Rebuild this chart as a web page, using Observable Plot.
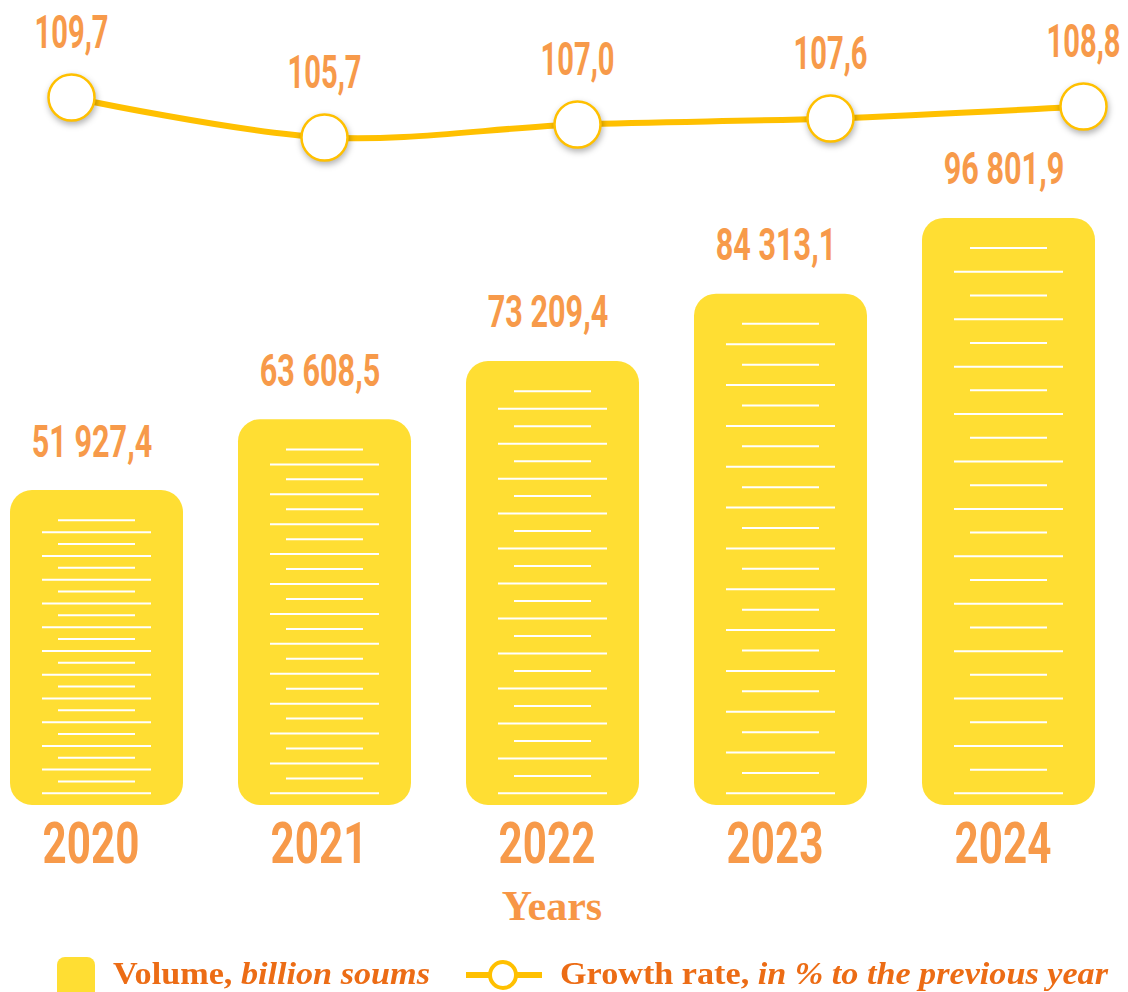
<!DOCTYPE html>
<html><head><meta charset="utf-8">
<script src="https://cdn.jsdelivr.net/npm/d3@7"></script>
<script src="https://cdn.jsdelivr.net/npm/@observablehq/plot@0.6"></script>
<style>
body{margin:0;background:#fff;}
#wrap{position:relative;width:1128px;height:992px;overflow:hidden;background:#fff;}
#bars,#line{position:absolute;left:0;top:0;}
#xlabel{position:absolute;left:0;width:1104px;top:885px;text-align:center;font-family:"Liberation Serif",serif;font-weight:bold;font-size:42px;line-height:42px;color:#F79646;}
.lg{position:absolute;font-family:"Liberation Serif",serif;font-weight:bold;font-size:32px;line-height:32px;color:#EC6C15;white-space:nowrap;transform-origin:left center;}
#sw{position:absolute;left:57px;top:957px;width:38px;height:42px;border-radius:8px;background:#FFDE33;}
#licon{position:absolute;left:462px;top:955px;}
</style></head><body>
<div id="wrap">
  <div id="bars"></div>
  <div id="line"></div>
  <div id="xlabel">Years</div>
  <div id="sw"></div>
  <div class="lg" id="lg1" style="left:113px;top:957px;">Volume, <i>billion soums</i></div>
  <svg id="licon" width="84" height="40"><line x1="4" y1="20" x2="80" y2="20" stroke="#FFC000" stroke-width="6"/><circle cx="41" cy="20" r="13" fill="#fff" stroke="#FFC000" stroke-width="4"/></svg>
  <div class="lg" id="lg2" style="left:560px;top:957px;">Growth rate, <i>in % to the previous year</i></div>
</div>
<script>
const years = ["2020", "2021", "2022", "2023", "2024"];
const volume = [51927.4, 63608.5, 73209.4, 84313.1, 96801.9];
const growth = [109.7, 105.7, 107.0, 107.6, 108.8];

const fmt = d3.formatLocale({decimal: ",", thousands: " ", grouping: [3]}).format(",.1f");
const barData = years.map((y, i) => ({year: y, value: volume[i]}));
const lineData = years.map((y, i) => ({year: y, g: growth[i]}));
// decorative white stripes inside each bar (24 per bar)
const stripes = barData.flatMap(d => d3.range(24).map(k => ({year: d.year, k, v: 2000 + k * (d.value - 4900 - 2000) / 23})));

const numFont = "Roboto, 'DejaVu Sans', sans-serif";
const orange = "#F79A4A";

const barPlot = Plot.plot({
  width: 1128, height: 880,
  x: {domain: years, range: [8.9, 1095.5], paddingInner: 0.243, paddingOuter: 0, axis: null},
  y: {domain: [0, 100000], range: [805, 198.5], axis: null},
  marks: [
    Plot.barY(barData, {x: "year", y: "value", fill: "#FFDE33", rx: 22}),
    Plot.tickY(stripes.filter(t => t.k % 2 === 0), {x: "year", y: "v", stroke: "#fff", strokeWidth: 2, insetLeft: 32, insetRight: 32}),
    Plot.tickY(stripes.filter(t => t.k % 2 === 1), {x: "year", y: "v", stroke: "#fff", strokeWidth: 2, insetLeft: 48, insetRight: 48}),
    Plot.text(barData, {x: "year", y: "value", text: d => fmt(d.value), dy: -34, dx: -5, lineAnchor: "bottom", fill: orange, fontSize: 45, fontWeight: "bold", fontFamily: numFont}),
    Plot.text(barData, {x: "year", y: () => 0, text: "year", dy: 17, dx: -6, lineAnchor: "top", fill: orange, fontSize: 57, fontWeight: "bold", fontFamily: numFont})
  ]
});
document.getElementById("bars").append(barPlot);

const linePlot = Plot.plot({
  width: 1128, height: 180,
  x: {type: "point", domain: years, range: [70, 1084], padding: 0, axis: null},
  y: {domain: [105.7, 109.7], range: [137, 97], axis: null},
  marks: [
    Plot.line(lineData, {x: "year", y: "g", stroke: "#FFC000", strokeWidth: 6, curve: "catmull-rom"}),
    Plot.dot(lineData, {x: "year", y: "g", r: 23, fill: "#fff", stroke: "#FFC000", strokeWidth: 2.5}),
    Plot.text(lineData, {x: "year", y: "g", text: d => fmt(d.g), dy: -50, lineAnchor: "bottom", fill: orange, fontSize: 47, fontWeight: "bold", fontFamily: numFont})
  ]
});
linePlot.style.overflow = "visible";
document.getElementById("line").append(linePlot);

// condense number glyphs horizontally (reference uses a narrow display face)
function condense(svg, groupIndex, sx) {
  const groups = svg.querySelectorAll('g[aria-label="text"]');
  const g = groups[groupIndex];
  if (!g) return;
  g.querySelectorAll("text").forEach(t => {
    const tr = t.getAttribute("transform");
    if (tr) {
      t.setAttribute("transform", tr + ` scale(${sx},1)`);
    } else {
      const x = +t.getAttribute("x") || 0, y = +t.getAttribute("y") || 0;
      t.removeAttribute("x"); t.removeAttribute("y");
      t.setAttribute("transform", `translate(${x},${y}) scale(${sx},1)`);
    }
  });
}
condense(barPlot, 0, 0.68);
condense(barPlot, 1, 0.74);
condense(linePlot, 0, 0.62);
const dotG = linePlot.querySelector('g[aria-label="dot"]');
if (dotG) dotG.style.filter = "drop-shadow(1px 3px 3px rgba(0,0,0,0.3))";

// fit legend texts to reference widths
[["lg1", 317], ["lg2", 548]].forEach(([id, w]) => {
  const el = document.getElementById(id);
  const aw = el.getBoundingClientRect().width;
  el.style.transform = `scaleX(${w / aw})`;
});
</script>
</body></html>
